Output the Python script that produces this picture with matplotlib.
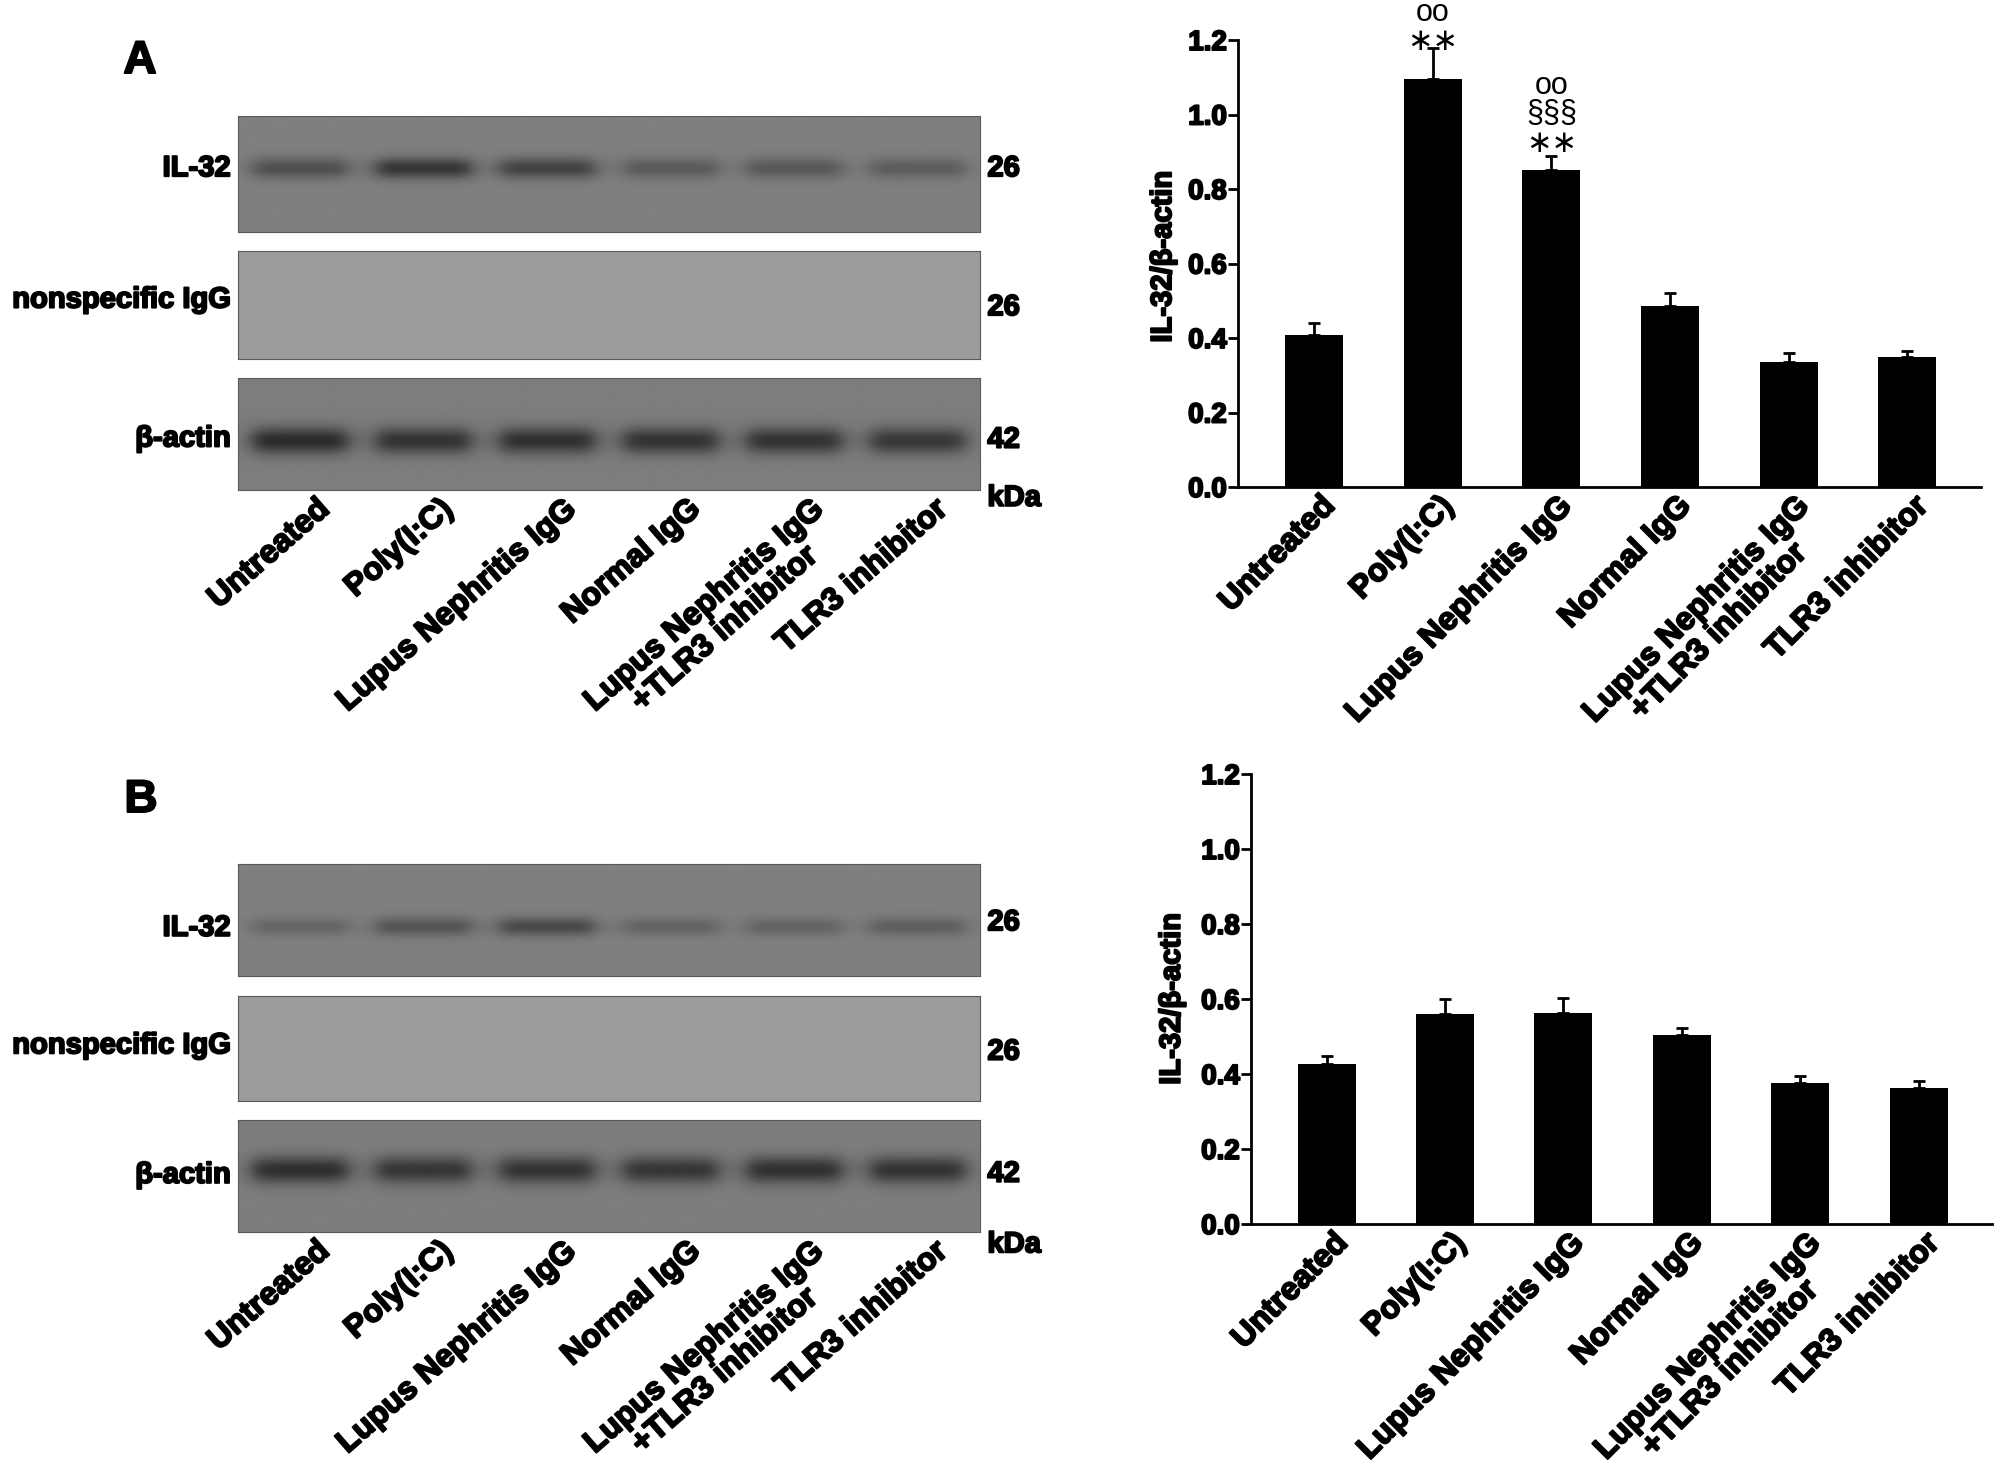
import numpy as np
import matplotlib.pyplot as plt
import matplotlib.patheffects as pe
from matplotlib.transforms import ScaledTranslation

plt.rcParams['font.family'] = ['Liberation Sans', 'DejaVu Sans']

# treatment groups, same order in blots and bar charts
groups = ['Untreated', 'Poly(I:C)', 'Lupus Nephritis IgG', 'Normal IgG',
          'Lupus Nephritis IgG\n+TLR3 inhibitor', 'TLR3 inhibitor']

# IL-32/beta-actin densitometry (mean and upper SEM)
ratio_a = [0.409, 1.094, 0.850, 0.487, 0.336, 0.349]
err_a = [0.030, 0.084, 0.038, 0.035, 0.023, 0.015]
ratio_b = [0.427, 0.559, 0.562, 0.505, 0.375, 0.363]
err_b = [0.022, 0.040, 0.040, 0.017, 0.021, 0.018]

# significance marks above bars of panel A, listed bottom to top
marks_a = {1: ['∗∗', 'oo'], 2: ['∗∗', '§§§', 'oo']}
# pixel gaps of each mark above its error cap
mark_gaps = {1: [7, 35], 2: [13, 42, 70]}

# blot rows and band darkness per lane (0 = no band)
blot_rows = ['IL-32', 'nonspecific IgG', 'β-actin']
blot_kda = ['26', '26', '42']
bands_a = [[0.55, 0.85, 0.70, 0.42, 0.45, 0.40],
           [0, 0, 0, 0, 0, 0],
           [0.95, 0.85, 0.88, 0.85, 0.85, 0.80]]
bands_b = [[0.30, 0.50, 0.62, 0.32, 0.32, 0.38],
           [0, 0, 0, 0, 0, 0],
           [0.90, 0.82, 0.85, 0.82, 0.88, 0.85]]

W, H = 1998, 1478
fig = plt.figure(figsize=(W / 100, H / 100), dpi=100)
HEAVY = [pe.withStroke(linewidth=1.4, foreground='black')]


def fbox(x0, y0, x1, y1):
    # pixel box (top-left origin) -> figure fraction rect
    return [x0 / W, 1 - y1 / H, (x1 - x0) / W, (y1 - y0) / H]


def shifted(ax, dx, dy):
    return ax.get_xaxis_transform() + ScaledTranslation(dx / 100, -dy / 100,
                                                        fig.dpi_scale_trans)


def bold(t):
    t.set_fontweight('bold')
    t.set_path_effects(HEAVY)
    return t


def draw_blot(ax, darkness, bg, band_y, band_h):
    xs = np.linspace(-0.5, 5.5, 740)
    ys = np.linspace(0, 1, 120)
    X, Y = np.meshgrid(xs, ys)
    img = np.full(X.shape, bg)
    for i, d in enumerate(darkness):
        px = 1 / (1 + ((X - i) / 0.39) ** 8)
        py = np.exp(-0.5 * ((Y - band_y) / band_h) ** 2)
        img = img - 0.34 * d * px * py
    ax.imshow(img, cmap='gray', vmin=0, vmax=1, extent=(-0.5, 5.5, 0, 1),
              origin='lower', aspect='auto', interpolation='bilinear')
    ax.set_xlim(-0.5, 5.5)
    ax.set_ylim(0, 1)
    ax.set_xticks([])
    ax.set_yticks([])
    for s in ax.spines.values():
        s.set_color('#5a5a5a')
        s.set_linewidth(0.8)


def group_labels(ax, dx, dy, rot):
    for i, g in enumerate(groups):
        bold(ax.text(i, 0, g, transform=shifted(ax, dx, dy), rotation=rot,
                     rotation_mode='anchor', ha='right', va='top',
                     multialignment='center', linespacing=1.05, fontsize=23))


def blot_panel(boxes, bands, bgs, band_ys, band_hs, label_ys, kda_ys, kda_unit_y):
    axes = []
    for k, box in enumerate(boxes):
        ax = fig.add_axes(fbox(*box))
        draw_blot(ax, bands[k], bgs[k], band_ys[k], band_hs[k])
        bold(ax.text(-0.01, label_ys[k], blot_rows[k], transform=ax.transAxes,
                     ha='right', va='center', fontsize=21))
        bold(ax.text(1.01, kda_ys[k], blot_kda[k], transform=ax.transAxes,
                     ha='left', va='center', fontsize=21))
        axes.append(ax)
    low = axes[-1]
    bold(low.text(1.01, kda_unit_y, 'kDa', transform=low.transAxes,
                  ha='left', va='center', fontsize=21))
    group_labels(low, 16, 4, 41)


def bar_panel(box, vals, errs, marks, ylab_x, ylab_y):
    ax = fig.add_axes(fbox(*box))
    x = np.arange(len(groups))
    ax.bar(x, vals, width=0.49, color='black', zorder=2)
    ax.errorbar(x, vals, yerr=[np.zeros(len(vals)), errs], fmt='none',
                ecolor='black', elinewidth=2, capsize=4.5, capthick=2, zorder=1)
    ax.set_xlim(-0.64, 5.62)
    ax.set_ylim(0, 1.2)
    ticks = np.arange(0, 1.21, 0.2)
    ax.set_yticks(ticks)
    ax.set_yticklabels(['%.1f' % v for v in ticks])
    ax.set_xticks([])
    ax.tick_params(axis='y', length=7, width=2, pad=1, labelsize=20)
    for lab in ax.get_yticklabels():
        bold(lab)
    for s in ['top', 'right']:
        ax.spines[s].set_visible(False)
    for s in ['left', 'bottom']:
        ax.spines[s].set_linewidth(2)
    bold(ax.set_ylabel('IL-32/β-actin', fontsize=21))
    ax.yaxis.set_label_coords(ylab_x, ylab_y)
    group_labels(ax, 6, 4, 45)
    for i, stack in marks.items():
        top = vals[i] + errs[i]
        for j, m in enumerate(stack):
            star = m.startswith('∗')
            ax.annotate(m, (i, top), xytext=(0, mark_gaps[i][j]),
                        textcoords='offset pixels', ha='center', va='center',
                        fontsize=22,
                        family='DejaVu Sans' if star else 'Liberation Sans',
                        annotation_clip=False)
    return ax


# panel A
bold(fig.text(140 / W, 1 - 61 / H, 'A', fontsize=33, ha='center', va='center'))
blot_panel([(238, 116, 980, 232), (238, 251, 980, 359), (238, 378, 980, 490)],
           bands_a, [0.50, 0.61, 0.49], [0.55, 0.5, 0.44], [0.065, 0.06, 0.085],
           [0.55, 0.55, 0.46], [0.55, 0.48, 0.45], -0.07)
bar_panel((1238, 40, 1981, 487), ratio_a, err_a, marks_a, -0.082, 0.515)

# panel B
bold(fig.text(141 / W, 1 - 800 / H, 'B', fontsize=33, ha='center', va='center'))
blot_panel([(238, 864, 980, 976), (238, 996, 980, 1101), (238, 1120, 980, 1232)],
           bands_b, [0.50, 0.61, 0.49], [0.44, 0.5, 0.55], [0.06, 0.06, 0.085],
           [0.43, 0.53, 0.51], [0.48, 0.47, 0.52], -0.11)
bar_panel((1251, 774, 1992, 1224), ratio_b, err_b, {}, -0.088, 0.5)

fig.savefig('out.png', dpi=100)
